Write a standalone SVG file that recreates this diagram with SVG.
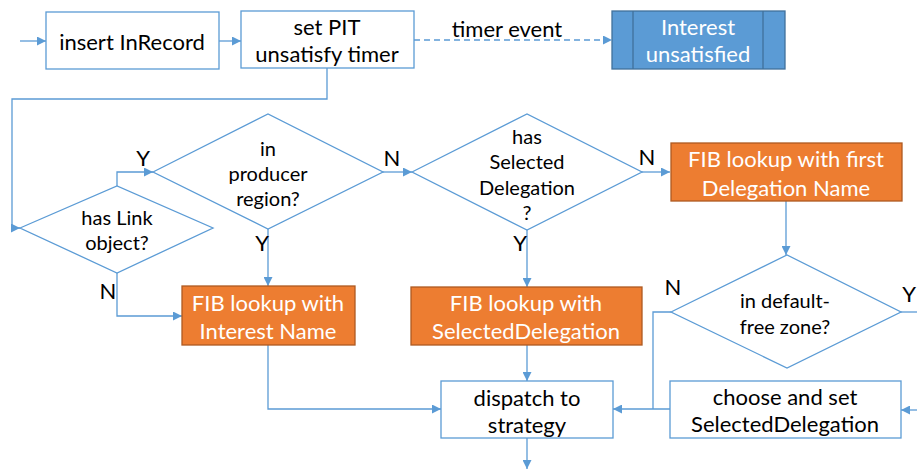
<svg xmlns="http://www.w3.org/2000/svg" width="917" height="470" viewBox="0 0 917 470">
  <defs>
    <marker id="arrow" viewBox="0 0 10 10" refX="10" refY="5" markerWidth="9" markerHeight="9" markerUnits="userSpaceOnUse" orient="auto">
      <path d="M0,0 L10,5 L0,10 z" fill="#5B9BD5"/>
    </marker>
    <style>
      .line { fill: none; stroke: #5B9BD5; stroke-width: 1.3; }
      .dash { stroke-dasharray: 6 4; }
      .box { fill: #FFFFFF; stroke: #5B9BD5; stroke-width: 1.3; }
      .orange { fill: #ED7D31; stroke: #AE5A21; stroke-width: 1.3; }
      .event { fill: #5B9BD5; stroke: #41719C; stroke-width: 1.3; }
      .decision { fill: #FFFFFF; stroke: #5B9BD5; stroke-width: 1.3; }
      text { font-family: Lato, "Liberation Sans", sans-serif; font-size: 22px; text-anchor: middle; dominant-baseline: central; fill: #000000; }
      .white { fill: #FFFFFF; }
      .small { font-size: 20px; }
      .label { font-size: 22px; }
    </style>
  </defs>

  <rect width="917" height="470" fill="#FFFFFF"/>

  <!-- connectors -->
  <g id="connectors">
    <path class="line" d="M20,41 H46" marker-end="url(#arrow)"/>
    <path class="line" d="M219,41 H241" marker-end="url(#arrow)"/>
    <path class="line dash" d="M414,40 H612" marker-end="url(#arrow)"/>
    <path class="line" d="M327,68 V99 H12 V228 H20" marker-end="url(#arrow)"/>
    <path class="line" d="M117,186 V172 H153" marker-end="url(#arrow)"/>
    <path class="line" d="M383,172 H412" marker-end="url(#arrow)"/>
    <path class="line" d="M642,172 H670" marker-end="url(#arrow)"/>
    <path class="line" d="M268,229 V286" marker-end="url(#arrow)"/>
    <path class="line" d="M527,230 V287" marker-end="url(#arrow)"/>
    <path class="line" d="M117,273 V316 H182" marker-end="url(#arrow)"/>
    <path class="line" d="M786,201 V255" marker-end="url(#arrow)"/>
    <path class="line" d="M268,345 V409 H441" marker-end="url(#arrow)"/>
    <path class="line" d="M527,345 V381" marker-end="url(#arrow)"/>
    <path class="line" d="M671,312 H653 V409"/>
    <path class="line" d="M670,409 H613" marker-end="url(#arrow)"/>
    <path class="line" d="M901,312 H917"/>
    <path class="line" d="M917,410 H901" marker-end="url(#arrow)"/>
    <path class="line" d="M527,438 V469" marker-end="url(#arrow)"/>
    <text x="507" y="28" class="label">timer event</text>
    <text x="143" y="157" class="label">Y</text>
    <text x="392" y="157" class="label">N</text>
    <text x="262" y="242" class="label">Y</text>
    <text x="108" y="290" class="label">N</text>
    <text x="520" y="242" class="label">Y</text>
    <text x="647" y="156" class="label">N</text>
    <text x="673" y="286" class="label">N</text>
    <text x="909" y="293" class="label">Y</text>
  </g>

  <g id="insert-inrecord">
    <rect class="box" x="46" y="12" width="173" height="57"/>
    <text x="132" y="41">insert InRecord</text>
  </g>

  <g id="set-pit-timer">
    <rect class="box" x="241" y="11" width="173" height="57"/>
    <text x="327" y="26">set PIT</text>
    <text x="327" y="53">unsatisfy timer</text>
  </g>

  <g id="interest-unsatisfied">
    <rect class="event" x="612" y="11" width="173" height="58"/>
    <path d="M633,11 V69 M763,11 V69" stroke="#41719C" stroke-width="1.3"/>
    <text x="698" y="26" class="white">Interest</text>
    <text x="698" y="53" class="white">unsatisfied</text>
  </g>

  <g id="has-link-object">
    <polygon class="decision" points="20,228 117,186 213,228 117,273"/>
    <text x="117" y="217" class="small">has Link</text>
    <text x="117" y="242" class="small">object?</text>
  </g>

  <g id="in-producer-region">
    <polygon class="decision" points="153,172 268,114 383,172 268,229"/>
    <text x="268" y="148" class="small">in</text>
    <text x="268" y="173" class="small">producer</text>
    <text x="268" y="198" class="small">region?</text>
  </g>

  <g id="has-selected-delegation">
    <polygon class="decision" points="412,172 527,114 642,172 527,230"/>
    <text x="527" y="136" class="small">has</text>
    <text x="527" y="161" class="small">Selected</text>
    <text x="527" y="187" class="small">Delegation</text>
    <text x="527" y="212" class="small">?</text>
  </g>

  <g id="fib-first-delegation">
    <rect class="orange" x="671" y="143" width="231" height="58"/>
    <text x="786" y="158" class="white">FIB lookup with first</text>
    <text x="786" y="187" class="white">Delegation Name</text>
  </g>

  <g id="fib-interest-name">
    <rect class="orange" x="182" y="286" width="173" height="59"/>
    <text x="268" y="302" class="white">FIB lookup with</text>
    <text x="268" y="330" class="white">Interest Name</text>
  </g>

  <g id="fib-selected-delegation">
    <rect class="orange" x="411" y="287" width="231" height="58"/>
    <text x="526" y="302" class="white">FIB lookup with</text>
    <text x="526" y="330" class="white">SelectedDelegation</text>
  </g>

  <g id="in-default-free-zone">
    <polygon class="decision" points="671,312 787,255 901,312 787,368"/>
    <text x="785" y="300" class="small">in default-</text>
    <text x="785" y="326" class="small">free zone?</text>
  </g>

  <g id="dispatch-to-strategy">
    <rect class="box" x="441" y="381" width="172" height="57"/>
    <text x="527" y="397">dispatch to</text>
    <text x="527" y="424">strategy</text>
  </g>

  <g id="choose-selected-delegation">
    <rect class="box" x="670" y="381" width="231" height="57"/>
    <text x="785" y="396">choose and set</text>
    <text x="785" y="423">SelectedDelegation</text>
  </g>
</svg>
